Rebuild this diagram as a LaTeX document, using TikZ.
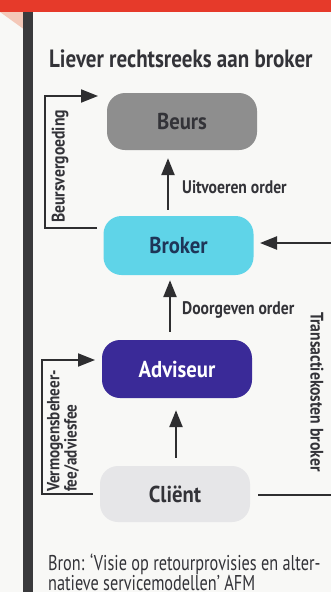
\documentclass[tikz,border=0pt]{standalone}
\usepackage{fontspec}
\usetikzlibrary{arrows.meta}
\newfontfamily\titlef[FakeStretch=0.84]{PT Sans}
\newfontfamily\boxf[FakeStretch=0.9]{PT Sans}
\newfontfamily\lblf[FakeStretch=0.86]{PT Sans}
\newfontfamily\srcf[FakeStretch=0.76]{PT Sans}
\definecolor{bgc}{HTML}{F8F8F6}
\definecolor{redc}{HTML}{E63A2A}
\definecolor{pinkc}{HTML}{F4C8B8}
\definecolor{barc}{HTML}{3A3A3C}
\definecolor{linec}{HTML}{2E2E30}
\definecolor{txtc}{HTML}{333338}
\definecolor{beursc}{HTML}{8E8E8E}
\definecolor{brokerc}{HTML}{5FD4E8}
\definecolor{brokertxt}{HTML}{1E3557}
\definecolor{advc}{HTML}{3A2A98}
\definecolor{clientc}{HTML}{E6E6E8}
\tikzset{
  box/.style={rounded corners=18pt, minimum width=150pt, minimum height=57pt, inner sep=0pt, font=\boxf\bfseries\fontsize{23}{26}\selectfont},
  arr/.style={draw=linec, line width=2.4pt, -{Triangle[length=17pt,width=13pt]}},
  brk/.style={draw=linec, line width=1.9pt, -{Triangle[length=17pt,width=13pt]}},
  elbl/.style={text=txtc, inner sep=0pt, font=\lblf\bfseries\fontsize{18.2}{20}\selectfont},
  srcstyle/.style={anchor=base west, inner sep=0pt, text=txtc, font=\srcf\fontsize{21.4}{21}\selectfont},
}
\begin{document}
\begin{tikzpicture}[x=1pt,y=-1pt]
\useasboundingbox (0,0) rectangle (331,592);
\clip (0,0) rectangle (331,592);
\fill[bgc] (0,0) rectangle (331,592);
\fill[redc] (0,0) rectangle (331,12);
\fill[pinkc] (0,12) -- (25,12) -- (25,30) -- cycle;
\fill[barc] (23,12) rectangle (33,592);

\node[anchor=base west, inner sep=0pt, text=txtc, font=\titlef\bfseries\fontsize{25}{28}\selectfont] (title) at (49,67) {Liever rechtsreeks aan broker};

\node[box, fill=beursc, text=txtc] (beurs) at (182,121.5) {Beurs};
\node[box, fill=brokerc, text=brokertxt, minimum height=59pt] (broker) at (178.5,245.5) {Broker};
\node[box, fill=advc, text=white, minimum height=58pt] (adv) at (177,369) {Adviseur};
\node[box, fill=clientc, text=txtc, minimum height=56pt] (client) at (175,494) {Cliënt};

\coordinate (xa) at (168,0);
\coordinate (xb) at (170,0);
\coordinate (xc) at (176,0);
\draw[arr, shorten <=6pt, shorten >=8pt] (broker.north -| xa) -- (beurs.south -| xa);
\draw[arr, shorten <=8pt, shorten >=5pt] (adv.north -| xb) -- (broker.south -| xb);
\draw[arr, shorten <=8pt, shorten >=12pt] (client.north -| xc) -- (adv.south -| xc);

\node[elbl, anchor=west] (uit) at (182,187) {Uitvoeren order};
\node[elbl, anchor=west] (door) at (182,310) {Doorgeven order};

% Beursvergoeding bracket
\coordinate (b1) at (97,228);
\coordinate (b0) at (45,228);
\coordinate (b2) at (98,96);
\draw[brk] (b1) -- (b0) |- (b2);
\node[elbl, rotate=90, anchor=west] (lbeurs) at (60,223) {Beursvergoeding};

% Vermogensbeheer bracket
\coordinate (v1) at (93,494);
\coordinate (v0) at (42,494);
\coordinate (v2) at (95,360);
\draw[brk] (v1) -- (v0) |- (v2);
\node[elbl, rotate=90, anchor=west, align=left, font=\lblf\bfseries\fontsize{17.6}{13}\selectfont] (lverm) at (63,492) {Vermogensbeheer-\\fee/adviesfee};

% Transactiekosten broker
\coordinate (r1) at (345,495);
\coordinate (r2) at (345,243);
\coordinate (r3) at (253,243);
\draw[brk, line width=2.2pt, shorten >=7pt] (client.east |- r1) ++(8,0) -- (r1) -- (r2) -- (r3);
\node[elbl, rotate=-90, anchor=west] (ltrans) at (317,312) {Transactiekosten broker};

% source
\node[srcstyle] (src) at (48,570) {Bron: ‘Visie op retourprovisies en alter-};
\node[srcstyle] (src2) at (48,590) {natieve servicemodellen’ AFM};
\end{tikzpicture}
\end{document}
